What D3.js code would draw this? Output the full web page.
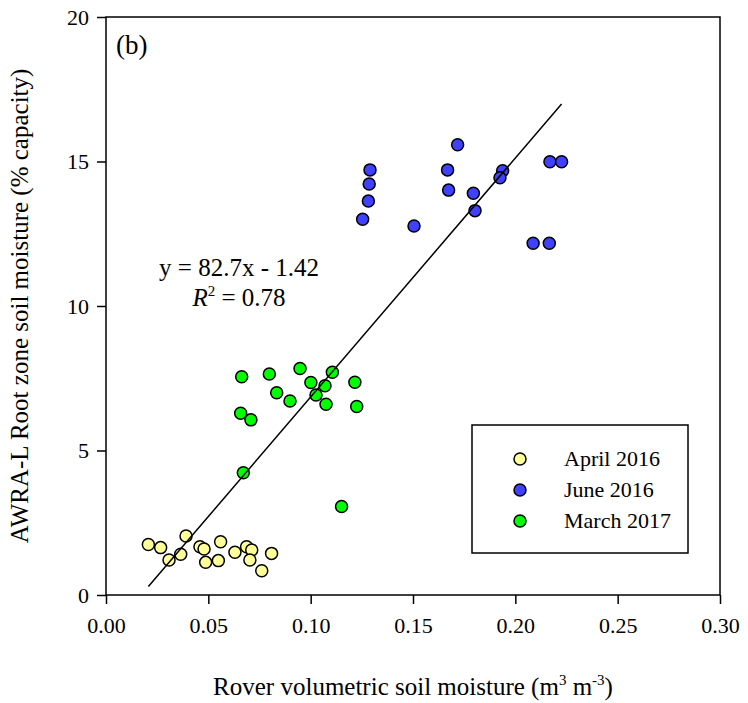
<!DOCTYPE html>
<html>
<head>
<meta charset="utf-8">
<script src="https://cdn.jsdelivr.net/npm/d3@7"></script>
<style>
  body { margin: 0; background: #fff; }
  svg text { font-family: "Liberation Serif", "Times New Roman", serif; fill: #000; }
</style>
</head>
<body>
<div id="chart"></div>
<script>
// data
var aprilX = [0.0207, 0.0267, 0.0308, 0.0365, 0.0391, 0.0459, 0.0479, 0.0487, 0.0549, 0.0560, 0.0630, 0.0687, 0.0712, 0.0703, 0.0761, 0.0809];
var aprilY = [1.75, 1.64, 1.21, 1.41, 2.04, 1.67, 1.59, 1.13, 1.19, 1.84, 1.48, 1.67, 1.56, 1.21, 0.84, 1.44];

var juneX = [0.1290, 0.1286, 0.1282, 0.1254, 0.1505, 0.1718, 0.1669, 0.1674, 0.1795, 0.1803, 0.1938, 0.1925, 0.2169, 0.2226, 0.2087, 0.2166];
var juneY = [14.71, 14.22, 13.63, 13.00, 12.77, 15.58, 14.71, 14.01, 13.90, 13.30, 14.68, 14.44, 14.99, 14.99, 12.17, 12.17];

var marchX = [0.0663, 0.0798, 0.0948, 0.1106, 0.1001, 0.1070, 0.1216, 0.0834, 0.0899, 0.1026, 0.1075, 0.1225, 0.0658, 0.0708, 0.0671, 0.1151];
var marchY = [7.55, 7.65, 7.84, 7.71, 7.35, 7.24, 7.36, 7.00, 6.71, 6.92, 6.60, 6.52, 6.29, 6.06, 4.23, 3.06];

var seriesNames = ["April 2016", "June 2016", "March 2017"];
var seriesColors = ["#ffff99", "#4040ff", "#00ff00"];

var xTicks = [0, 0.05, 0.10, 0.15, 0.20, 0.25, 0.30];
var yTicks = [0, 5, 10, 15, 20];

// regression fit
var slope = 82.7, intercept = -1.42, r2 = 0.78;

var serif = "'Liberation Serif', 'Times New Roman', serif";

var margin = {top: 17, right: 28, bottom: 108, left: 106},
    width = 748 - margin.left - margin.right,
    height = 703 - margin.top - margin.bottom;

var svg = d3.select("#chart")
  .append("svg")
    .attr("width", 748)
    .attr("height", 703)
  .append("g")
    .attr("transform", "translate(" + margin.left + "," + margin.top + ")");

var x = d3.scaleLinear().domain([0, 0.3]).range([0, width]);
var y = d3.scaleLinear().domain([0, 20]).range([height, 0]);

// axes
var xAxis = svg.append("g")
    .attr("transform", "translate(0," + height + ")")
    .call(d3.axisBottom(x).tickValues(xTicks).tickFormat(d3.format(".2f")).tickSize(9).tickSizeOuter(0).tickPadding(13));
var yAxis = svg.append("g")
    .call(d3.axisLeft(y).tickValues(yTicks).tickFormat(d3.format("d")).tickSize(9).tickSizeOuter(0).tickPadding(8));

[xAxis, yAxis].forEach(function(a) {
  a.attr("font-family", serif);
  a.selectAll("text").style("font-size", "22px");
  a.selectAll("line").attr("stroke", "#000").attr("stroke-width", 1.5);
  a.select(".domain").remove();
});

// frame
svg.append("rect")
    .attr("x", 0)
    .attr("y", 0)
    .attr("width", width)
    .attr("height", height)
    .attr("fill", "none")
    .attr("stroke", "#000")
    .attr("stroke-width", 1.5);

// points
var groups = [
  {x: aprilX, y: aprilY},
  {x: juneX, y: juneY},
  {x: marchX, y: marchY}
];
groups.forEach(function(g, i) {
  svg.append("g").selectAll("circle")
      .data(g.x)
      .enter()
      .append("circle")
        .attr("cx", function(d) { return x(d); })
        .attr("cy", function(d, j) { return y(g.y[j]); })
        .attr("r", 6)
        .attr("fill", seriesColors[i])
        .attr("stroke", "#000")
        .attr("stroke-width", 1.5);
});

// regression line over the data range
var allX = aprilX.concat(juneX, marchX);
var x0 = d3.min(allX), x1 = d3.max(allX);
svg.append("line")
    .attr("x1", x(x0))
    .attr("y1", y(slope * x0 + intercept))
    .attr("x2", x(x1))
    .attr("y2", y(slope * x1 + intercept))
    .attr("stroke", "#000")
    .attr("stroke-width", 1.5);

// panel label and equation
svg.append("text")
    .attr("x", 10)
    .attr("y", 37)
    .style("font-size", "27px")
    .text("(b)");

svg.append("text")
    .attr("x", x(0.065))
    .attr("y", y(11.05))
    .attr("text-anchor", "middle")
    .style("font-size", "25px")
    .text("y = 82.7x - 1.42");

var r2Text = svg.append("text")
    .attr("x", x(0.065))
    .attr("y", y(10.0))
    .attr("text-anchor", "middle")
    .style("font-size", "25px");
r2Text.append("tspan").style("font-style", "italic").text("R");
r2Text.append("tspan").attr("dy", -10).style("font-size", "15px").text("2");
r2Text.append("tspan").attr("dy", 10).text(" = " + r2.toFixed(2));

// legend
var legend = svg.append("g")
    .attr("transform", "translate(" + (472 - margin.left) + "," + (425 - margin.top) + ")");
legend.append("rect")
    .attr("width", 216)
    .attr("height", 128)
    .attr("fill", "#fff")
    .attr("stroke", "#000")
    .attr("stroke-width", 1.5);
seriesNames.forEach(function(name, i) {
  legend.append("circle")
      .attr("cx", 48)
      .attr("cy", 34 + i * 31)
      .attr("r", 6)
      .attr("fill", seriesColors[i])
      .attr("stroke", "#000")
      .attr("stroke-width", 1.5);
  legend.append("text")
      .attr("x", 92)
      .attr("y", 34 + i * 31 + 7)
      .style("font-size", "22px")
      .text(name);
});

// axis titles
var xTitle = svg.append("text")
    .attr("x", width / 2)
    .attr("y", height + 100)
    .attr("text-anchor", "middle")
    .style("font-size", "25px");
xTitle.append("tspan").text("Rover volumetric soil moisture (m");
xTitle.append("tspan").attr("dy", -10).style("font-size", "15px").text("3");
xTitle.append("tspan").attr("dy", 10).text(" m");
xTitle.append("tspan").attr("dy", -10).style("font-size", "15px").text("-3");
xTitle.append("tspan").attr("dy", 10).text(")");

svg.append("text")
    .attr("transform", "rotate(-90)")
    .attr("x", -height / 2)
    .attr("y", -78)
    .attr("text-anchor", "middle")
    .style("font-size", "25px")
    .text("AWRA-L Root zone soil moisture (% capacity)");
</script>
</body>
</html>
